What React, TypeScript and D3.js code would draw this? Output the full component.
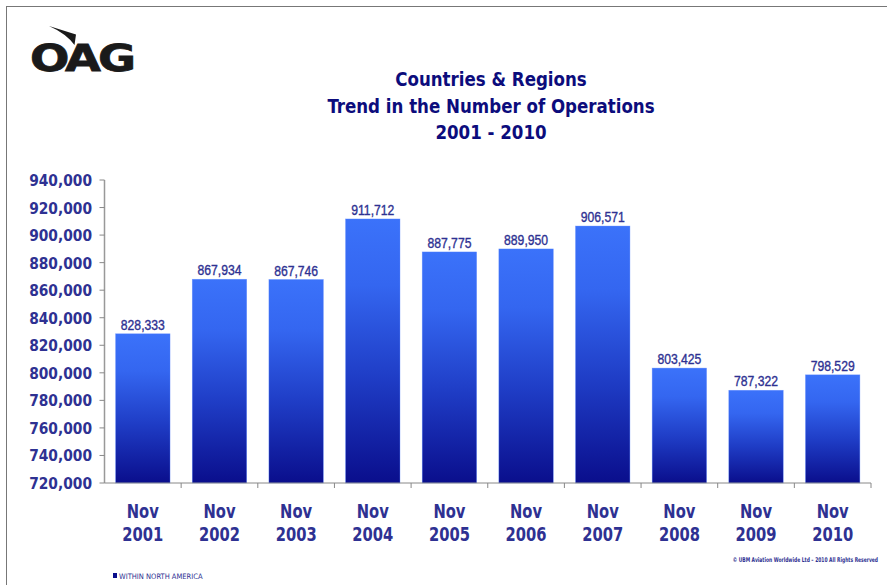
import React from "react";
import * as d3 from "d3";

const categories = ["2001", "2002", "2003", "2004", "2005", "2006", "2007", "2008", "2009", "2010"];
const values = [828333, 867934, 867746, 911712, 887775, 889950, 906571, 803425, 787322, 798529];
const yTicks = [720000, 740000, 760000, 780000, 800000, 820000, 840000, 860000, 880000, 900000, 920000, 940000];
const titleLines = ["Countries & Regions", "Trend in the Number of Operations", "2001 - 2010"];
const legendLabel = "WITHIN NORTH AMERICA";
const copyright = "\u00A9 UBM Aviation Worldwide Ltd \u2013 2010 All Rights Reserved";

const W = 891;
const H = 585;
const plot = { left: 104.5, right: 871, top: 180, bottom: 483 };
const axisColor = "#2e3192";
const titleColor = "#0c0c7c";
const condensed = "'DejaVu Sans Condensed', 'DejaVu Sans', sans-serif";

function SText(props: { x: number; y: number; sx: number; anchor?: string; family: string; size: number; weight?: string; fill: string; spacing?: number; stroke?: number; children: React.ReactNode }) {
  return (
    <text
      transform={`translate(${props.x},${props.y}) scale(${props.sx},1)`}
      textAnchor={props.anchor || "start"}
      fontFamily={props.family}
      fontSize={props.size}
      fontWeight={props.weight || "normal"}
      letterSpacing={props.spacing || 0}
      fill={props.fill}
      stroke={props.stroke ? props.fill : "none"}
      strokeWidth={props.stroke || 0}
    >
      {props.children}
    </text>
  );
}

export default function App() {
  const x = d3.scaleBand<string>().domain(categories).range([plot.left, plot.right]).paddingInner(0.29).paddingOuter(0.145);
  const band = d3.scaleBand<string>().domain(categories).range([plot.left, plot.right]);
  const y = d3.scaleLinear().domain([720000, 940000]).range([plot.bottom, plot.top]);
  const fmt = d3.format(",");

  return (
    <div style={{ position: "absolute", left: 0, top: 0 }}>
      <svg width={W} height={H} viewBox={`0 0 ${W} ${H}`} style={{ display: "block", background: "#fff" }}>
        <defs>
          <linearGradient id="barGrad" x1="0" y1="0" x2="0" y2="1">
            <stop offset="0%" stopColor="#3b72fa" />
            <stop offset="25%" stopColor="#3466f0" />
            <stop offset="60%" stopColor="#1f3dc6" />
            <stop offset="100%" stopColor="#0a0e8c" />
          </linearGradient>
        </defs>

        {/* frame */}
        <line x1={6} y1={6.5} x2={887} y2={6.5} stroke="#777" strokeWidth={1} />
        <line x1={6.5} y1={6} x2={6.5} y2={H} stroke="#777" strokeWidth={1} />

        {/* logo */}
        <g>
          <path d="M49,26 L76,34.5 L74.5,45 Q66,33.5 49,26 Z" fill="#1a1a1a" />
          <SText x={30} y={70.5} sx={1.22} spacing={-2.5} stroke={0.8} family="'DejaVu Sans', sans-serif" weight="bold" size={38} fill="#1a1a1a">OAG</SText>
        </g>

        {/* title */}
        {titleLines.map((t, i) => (
          <SText key={t} x={491} y={86 + i * 26.5} sx={0.975} anchor="middle" family={condensed} weight="bold" size={19} fill={titleColor}>{t}</SText>
        ))}

        {/* bars */}
        {categories.map((c, i) => {
          const v = values[i];
          const x0 = x(c)!;
          const top = y(v);
          return (
            <g key={c}>
              <rect x={x0} y={top} width={x.bandwidth()} height={plot.bottom - top} fill="url(#barGrad)" stroke="#5a86ff" strokeWidth={0.6} strokeOpacity={0.6} />
              <SText x={x0 + x.bandwidth() / 2} y={top - 4} sx={0.87} stroke={0.35} anchor="middle" family="'Liberation Sans', Arial, sans-serif" size={14} fill={axisColor}>{fmt(v)}</SText>
            </g>
          );
        })}

        {/* y axis */}
        <line x1={plot.left} y1={plot.top} x2={plot.left} y2={plot.bottom} stroke="#999" strokeWidth={1.5} />
        {yTicks.map((t) => (
          <g key={t}>
            <line x1={plot.left - 5} x2={plot.left} y1={y(t)} y2={y(t)} stroke="#888" strokeWidth={1} />
            <SText x={92} y={y(t) + 6} sx={0.93} anchor="end" family={condensed} weight="bold" size={16.5} fill={axisColor}>{fmt(t)}</SText>
          </g>
        ))}

        {/* x axis */}
        <line x1={plot.left} y1={plot.bottom} x2={plot.right} y2={plot.bottom} stroke="#888" strokeWidth={1} />
        {categories.map((c) => (
          <line key={"t" + c} x1={band(c)! + band.bandwidth()} x2={band(c)! + band.bandwidth()} y1={plot.bottom} y2={plot.bottom + 5} stroke="#888" strokeWidth={1} />
        ))}
        {categories.map((c) => {
          const cx = band(c)! + band.bandwidth() / 2;
          return (
            <g key={"l" + c}>
              <SText x={cx} y={517.5} sx={0.84} anchor="middle" family={condensed} weight="bold" size={19.5} fill={axisColor}>Nov</SText>
              <SText x={cx} y={540.5} sx={0.84} anchor="middle" family={condensed} weight="bold" size={19.5} fill={axisColor}>{c}</SText>
            </g>
          );
        })}

        {/* copyright */}
        <SText x={878} y={562} sx={0.76} anchor="end" family={condensed} weight="bold" size={6.5} fill={axisColor}>{copyright}</SText>

        {/* legend */}
        <rect x={113} y={573} width={4} height={5} fill="#0a0e8c" />
        <text x={119} y={578.5} fontFamily={condensed} fontSize={7.5} fill={axisColor}>{legendLabel}</text>
      </svg>
    </div>
  );
}
